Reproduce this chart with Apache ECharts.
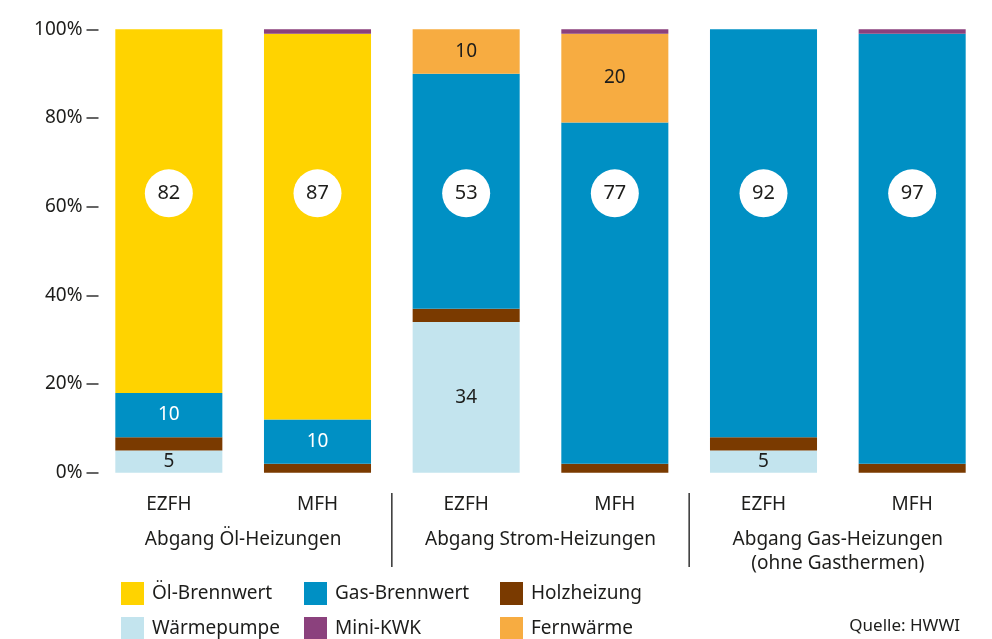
<!DOCTYPE html>
<html>
<head>
<meta charset="utf-8">
<script src="https://cdn.jsdelivr.net/npm/echarts@6/dist/echarts.min.js"></script>
<style>
  html, body { margin: 0; padding: 0; background: #fff; }
  #chart { width: 992px; height: 639px; }
</style>
</head>
<body>
<div id="chart"></div>
<script>
const categories = ['EZFH', 'MFH', 'EZFH', 'MFH', 'EZFH', 'MFH'];
const groups = ['Abgang Öl-Heizungen', 'Abgang Strom-Heizungen', 'Abgang Gas-Heizungen\n(ohne Gasthermen)'];

// Anteile in %, von unten nach oben gestapelt
const waermepumpe = [5, 0, 34, 0, 5, 0];
const holzheizung = [3, 2, 3, 2, 3, 2];
const gasBrennwert = [10, 10, 53, 77, 92, 97];
const oelBrennwert = [82, 87, 0, 0, 0, 0];
const fernwaerme = [0, 0, 10, 20, 0, 0];
const miniKwk = [0, 1, 0, 1, 0, 1];

// Höhe der weißen Kreise (Achsenwert)
const circleLevel = 63;

const FONT = 'Noto Sans';
const TEXT = '#1d1d1b';

const seriesDefs = [
  { name: 'Wärmepumpe', data: waermepumpe, color: '#c3e4ee', labelColor: TEXT },
  { name: 'Holzheizung', data: holzheizung, color: '#7a3a00', labelColor: '#fff' },
  { name: 'Gas-Brennwert', data: gasBrennwert, color: '#0090c4', labelColor: '#fff' },
  { name: 'Öl-Brennwert', data: oelBrennwert, color: '#ffd300', labelColor: TEXT },
  { name: 'Fernwärme', data: fernwaerme, color: '#f7ac41', labelColor: TEXT },
  { name: 'Mini-KWK', data: miniKwk, color: '#8b417d', labelColor: '#fff' }
];

// größter Anteil je Balken kommt in den Kreis
const maxPerBar = categories.map((_, i) => Math.max(...seriesDefs.map(s => s.data[i])));

const barSeries = seriesDefs.map(s => ({
  name: s.name,
  type: 'bar',
  stack: 'total',
  barCategoryGap: '28%',
  itemStyle: { color: s.color },
  label: {
    position: 'inside',
    color: s.labelColor,
    fontFamily: FONT,
    fontSize: 19
  },
  data: s.data.map((v, i) => ({
    value: v,
    label: { show: v >= 5 && v !== maxPerBar[i] }
  }))
}));

const circleSeries = {
  name: 'Kreise',
  type: 'scatter',
  symbol: 'circle',
  symbolSize: 48,
  silent: true,
  z: 5,
  itemStyle: { color: '#fff', opacity: 1 },
  label: {
    show: true,
    position: 'inside',
    color: TEXT,
    fontFamily: FONT,
    fontSize: 20,
    formatter: p => String(maxPerBar[p.dataIndex])
  },
  data: categories.map((_, i) => [i, circleLevel])
};

const legendBase = {
  orient: 'vertical',
  top: 582,
  height: 90,
  padding: 0,
  itemWidth: 23,
  itemHeight: 23,
  itemGap: 12,
  icon: 'rect',
  selectedMode: false,
  textStyle: { fontFamily: FONT, fontSize: 19, color: TEXT, padding: [0, 0, 0, 3] }
};

const chart = echarts.init(document.getElementById('chart'));

chart.setOption({
  animation: false,
  textStyle: { fontFamily: FONT },
  grid: { left: 94.5, right: 5.5, top: 29.3, bottom: 166.3 },
  xAxis: [
    {
      type: 'category',
      data: categories,
      axisLine: { show: false },
      axisTick: { show: false },
      axisLabel: { interval: 0, fontFamily: FONT, fontSize: 19, color: TEXT, margin: 22 }
    },
    {
      type: 'category',
      data: groups,
      position: 'bottom',
      axisLine: { show: false },
      axisTick: { show: false },
      axisLabel: { interval: 0, fontFamily: FONT, fontSize: 19, color: TEXT, margin: 55, lineHeight: 24 }
    }
  ],
  yAxis: {
    type: 'value',
    min: 0,
    max: 100,
    interval: 20,
    offset: -4,
    splitLine: { show: false },
    axisLine: { show: false },
    axisTick: { show: true, length: 12, lineStyle: { color: '#333', width: 1.5 } },
    axisLabel: {
      fontFamily: FONT,
      fontSize: 19,
      color: TEXT,
      margin: 16,
      formatter: '{value}%'
    }
  },
  legend: [
    Object.assign({ left: 121, data: ['Öl-Brennwert', 'Wärmepumpe'] }, legendBase),
    Object.assign({ left: 304, data: ['Gas-Brennwert', 'Mini-KWK'] }, legendBase),
    Object.assign({ left: 500, data: ['Holzheizung', 'Fernwärme'] }, legendBase)
  ],
  title: {
    text: 'Quelle: HWWI',
    right: 32,
    top: 618,
    padding: 0,
    textStyle: { fontFamily: FONT, fontSize: 17, fontWeight: 'normal', color: TEXT }
  },
  series: [...barSeries, circleSeries]
});

// Trennlinien zwischen den Gruppen (an den Kategoriengrenzen)
const separators = [1.5, 3.5].map(pos => {
  const a = chart.convertToPixel({ xAxisIndex: 0 }, Math.floor(pos));
  const b = chart.convertToPixel({ xAxisIndex: 0 }, Math.ceil(pos));
  const x = (a + b) / 2;
  return {
    type: 'line',
    shape: { x1: x, y1: 493, x2: x, y2: 567 },
    style: { stroke: '#333', lineWidth: 1.5 },
    silent: true
  };
});
chart.setOption({ graphic: separators });
</script>
</body>
</html>
